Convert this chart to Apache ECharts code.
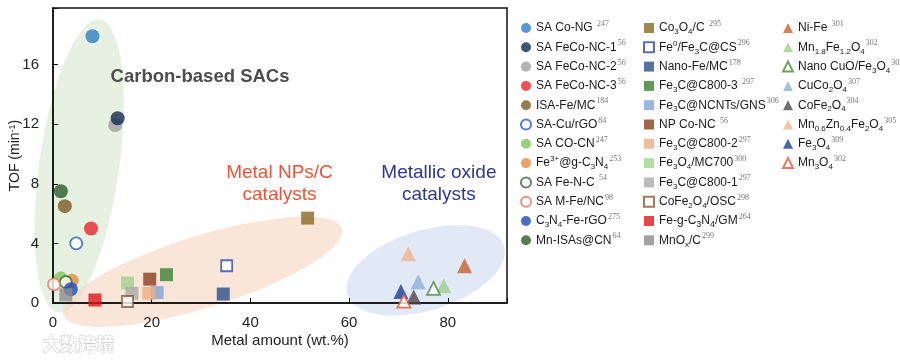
<!DOCTYPE html>
<html>
<head>
<meta charset="utf-8">
<script src="https://cdn.jsdelivr.net/npm/echarts@6/dist/echarts.min.js"></script>
<style>html,body{margin:0;padding:0;background:#fff;}#c{width:900px;height:361px;}</style>
</head>
<body>
<div id="c"></div>
<script>
// ---- data ----
const names = ['SA Co-NG','SA FeCo-NC-1','SA FeCo-NC-2','SA FeCo-NC-3','ISA-Fe/MC','SA-Cu/rGO','SA CO-CN','Fe3+@g-C3N4','SA Fe-N-C','SA M-Fe/NC','C3N4-Fe-rGO','Mn-ISAs@CN',
  'Co3O4/C','Fe0/Fe3C@CS','Nano-Fe/MC','Fe3C@C800-3','Fe3C@NCNTs/GNS','NP Co-NC','Fe3C@C800-2','Fe3O4/MC700','Fe3C@C800-1','CoFe2O4/OSC','Fe-g-C3N4/GM','MnOx/C',
  'Ni-Fe','Mn1.8Fe1.2O4','Nano CuO/Fe3O4','CuCo2O4','CoFe2O4','Mn0.6Zn0.4Fe2O4','Fe3O4','Mn3O4'];
const legendLabels = ['SA Co-NG {r|247}','SA FeCo-NC-1{r|56}','SA FeCo-NC-2{r|56}','SA FeCo-NC-3{r|56}','ISA-Fe/MC{r|184}','SA-Cu/rGO{r|84}','SA CO-CN{r|247}','Fe{p|3+}@g-C{b|3}N{b|4}{r|253}','SA Fe-N-C {r|54}','SA M-Fe/NC{r|98}','C{b|3}N{b|4}-Fe-rGO{r|275}','Mn-ISAs@CN{r|64}',
  'Co{b|3}O{b|4}/C {r|295}','Fe{p|0}/Fe{b|3}C@CS{r|296}','Nano-Fe/MC{r|178}','Fe{b|3}C@C800-3 {r|297}','Fe{b|3}C@NCNTs/GNS{r|306}','NP Co-NC {r|56}','Fe{b|3}C@C800-2{r|297}','Fe{b|3}O{b|4}/MC700{r|300}','Fe{b|3}C@C800-1{r|297}','CoFe{b|2}O{b|4}/OSC{r|298}','Fe-g-C{s|3}N{s|4}/GM{r|264}','MnO{b|x}/C{r|299}',
  'Ni-Fe {r|301}','Mn{b|1.8}Fe{b|1.2}O{b|4}{r|302}','Nano CuO/Fe{b|3}O{b|4}{r|303}','CuCo{b|2}O{b|4}{r|307}','CoFe{b|2}O{b|4}{r|304}','Mn{b|0.6}Zn{b|0.4}Fe{b|2}O{b|4}{r|305}','Fe{b|3}O{b|4}{r|309}','Mn{b|3}O{b|4}{r|302}'];
const metalAmount = [8.0,13.1,12.6,7.7,2.4,4.7,1.6,3.8,2.6,0.2,3.6,1.6,
  51.6,35.2,34.5,23.0,21.1,19.6,19.4,15.1,16.0,15.1,8.5,2.6,
  83.4,79.2,77.1,74.0,73.1,72.0,70.5,71.1];
const tof = [17.9,12.4,11.95,5.0,6.5,4.0,1.65,1.5,1.4,1.25,0.92,7.5,
  5.7,2.5,0.6,1.9,0.7,1.6,0.65,1.35,0.65,0.1,0.2,0.55,
  2.5,1.15,0.98,1.42,0.4,3.3,0.78,0.12];
const symbols = [].concat(Array(12).fill('circle'), Array(12).fill('rect'), Array(8).fill('triangle'));
const colors = ['#2f7ec4','#13294f','#a0a0a0','#e8262a','#7a5a20','#2a5bbf','#80c75c','#ea8a3e','#2f6a2f','#e8775a','#1f48b8','#2d5a2a',
  '#8a6a22','#2c4ea0','#2a4f90','#3f7f30','#7ea6dc','#8b3e1d','#f0ad85','#a4d38f','#ababab','#8e5635','#e2161c','#8c8c8c',
  '#c8612a','#9fd08e','#4f8a3a','#8fb0e0','#4a4a4a','#f2b48c','#1c3f9a','#e8543c'];
const hollow = [5,8,9,13,21,26,31];
const xTicks = [0,20,40,60,80];
const yTicks = [0,4,8,12,16];

const labelMap = {};
names.forEach((n,i)=>labelMap[n]=legendLabels[i]);

const chart = echarts.init(document.getElementById('c'));
const series = names.map((n,i)=>{
  const open = hollow.indexOf(i) >= 0;
  const sz = symbols[i]==='circle'?14:(symbols[i]==='rect'?13:15);
  return {
    name:n, type:'scatter', symbol:symbols[i], symbolSize: open?sz-2:sz, clip:false,
    z: i===1?4:3,
    itemStyle: open?{color:'#fff',borderColor:colors[i],borderWidth:1.8}:{color:colors[i]},
    emphasis:{disabled:true},
    data:[[metalAmount[i], tof[i]]]
  };
});
const rich = {
  b:{fontSize:8,lineHeight:8,verticalAlign:'bottom',color:'#1a1a1a',fontFamily:'Liberation Sans'},
  s:{fontSize:9,lineHeight:11,verticalAlign:'bottom',color:'#1a1a1a',fontFamily:'Liberation Sans'},
  p:{fontSize:8,lineHeight:8,verticalAlign:'top',color:'#1a1a1a',fontFamily:'Liberation Sans'},
  r:{fontSize:8,lineHeight:8,verticalAlign:'top',color:'#777',fontFamily:'Liberation Serif',padding:[0,0,0,1]}
};
function legend(left, data){
  return {orient:'vertical', left:left, top:15, itemWidth:10, itemHeight:10, itemGap:3.3,
    selectedMode:false, data:data, formatter:(n)=>labelMap[n],
    textStyle:{fontSize:12,lineHeight:16,color:'#1a1a1a',fontFamily:'Liberation Sans',rich:rich}};
}
const axisLbl = {fontSize:15,color:'#222',fontFamily:'Liberation Sans'};
chart.setOption({
  animation:false,
  grid:{left:53,top:8,right:393,bottom:58,containLabel:false,outerBoundsMode:'none',show:true,borderColor:'#111',borderWidth:1.5},
  xAxis:{type:'value',min:0,max:92,interval:20,name:'Metal amount (wt.%)',nameLocation:'middle',nameGap:30,nameMoveOverlap:false,
    nameTextStyle:{fontSize:15,color:'#222',fontFamily:'Liberation Sans'},
    axisLine:{lineStyle:{color:'#111',width:1.5}},axisTick:{inside:true,length:5,lineStyle:{color:'#111'}},
    splitLine:{show:false},axisLabel:Object.assign({margin:12,formatter:(v)=>xTicks.indexOf(v)>=0?String(v):''},axisLbl)},
  yAxis:{type:'value',min:0,max:19.8,interval:4,name:'TOF (min{p|-1})',nameLocation:'middle',nameGap:31,nameMoveOverlap:false,
    nameTextStyle:{fontSize:14,color:'#222',fontFamily:'Liberation Sans',rich:{p:{fontSize:9,verticalAlign:'top',lineHeight:9,color:'#222'}}},
    axisLine:{lineStyle:{color:'#111',width:1.5}},axisTick:{inside:true,length:5,lineStyle:{color:'#111'}},
    splitLine:{show:false},axisLabel:Object.assign({margin:14,formatter:(v)=>yTicks.indexOf(v)>=0?String(v):''},axisLbl)},
  legend:[legend(515,names.slice(0,12)),legend(638,names.slice(12,24)),legend(777,names.slice(24,32))],
  series:series
});

// ---- decorations (ellipses & annotations) ----
function px(x,y){return chart.convertToPixel({gridIndex:0},[x,y]);}
const ellipses = [
  {c:[5.3,9.2], a:40, b:148, rot:-0.14, fill:'rgba(200,225,190,0.45)'},
  {c:[30.3,2.1], a:146, b:36, rot:0.30, fill:'rgba(245,205,180,0.5)'},
  {c:[75.5,2.2], a:82, b:40, rot:0.30, fill:'rgba(200,215,240,0.55)'}
];
const graphics = ellipses.map(e=>{
  const p = px(e.c[0],e.c[1]);
  return {type:'circle', x:p[0], y:p[1], scaleX:e.a, scaleY:e.b, rotation:e.rot, shape:{cx:0,cy:0,r:1},
    style:{fill:e.fill}, z:-10, silent:true};
});
const texts = [
  {t:'Carbon-based SACs', at:[29.8,15.2], color:'#4d4d4d', size:18.5, w:'bold'},
  {t:'Metal NPs/C\ncatalysts', at:[45.9,8.0], color:'#e5573a', size:19, w:'normal'},
  {t:'Metallic oxide\ncatalysts', at:[78.2,8.0], color:'#2b3990', size:19, w:'normal'}
];
texts.forEach(o=>{
  const p = px(o.at[0],o.at[1]);
  graphics.push({type:'text', x:p[0], y:p[1], z:10, silent:true,
    style:{text:o.t, fill:o.color, font:o.w+' '+o.size+'px "Liberation Sans"', textAlign:'center', textVerticalAlign:'middle', lineHeight:22}});
});
graphics.push({type:'text', left:42, top:335, z:10, silent:true,
  style:{text:'大数跨境', fill:'#fff', stroke:'#c8c8c8', lineWidth:1, font:'bold 18px "Noto Sans CJK SC"'}});
chart.setOption({graphic:graphics});
</script>
</body>
</html>
